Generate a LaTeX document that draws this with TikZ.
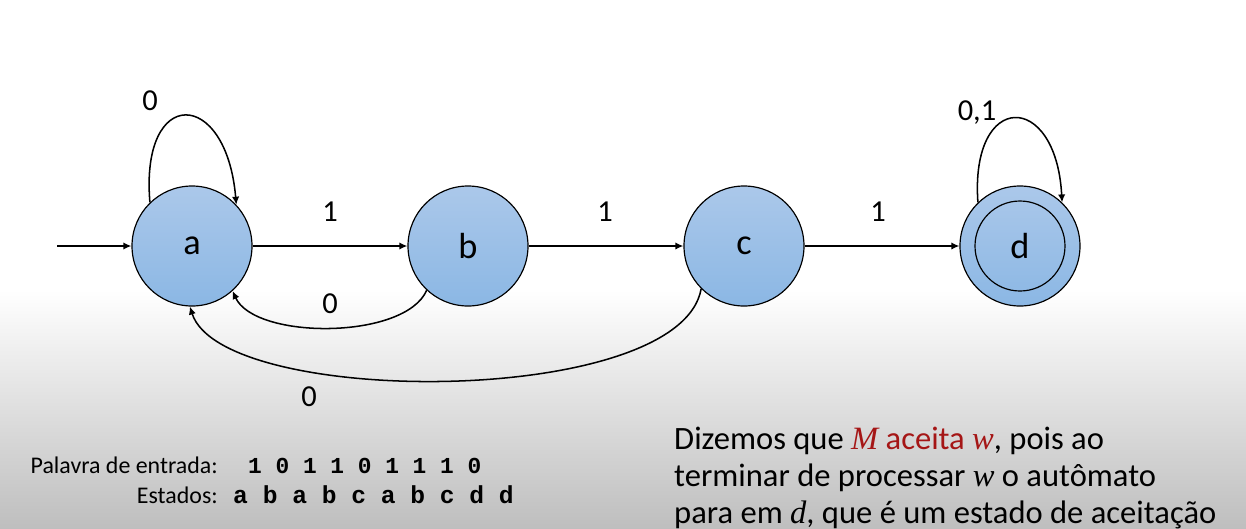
\documentclass[tikz,border=0pt]{standalone}
\usepackage{fontspec}
\setmainfont{Carlito}
\setmonofont{Liberation Mono}
\newfontfamily\varfont{Liberation Serif}
\newcommand{\var}[1]{{\varfont\itshape #1}}
\usetikzlibrary{arrows.meta}
\definecolor{statetop}{RGB}{171,200,234}
\definecolor{statebot}{RGB}{139,183,228}
\definecolor{bggray}{RGB}{190,190,190}
\definecolor{accred}{RGB}{165,22,22}
\tikzset{
  statenode/.style={circle, draw=black, line width=1pt, minimum size=3.6cm, inner sep=0pt,
    top color=statetop, bottom color=statebot, font=\fontsize{31}{34}\selectfont},
  trans/.style={-{Latex[length=2.4mm,width=2.2mm]}, line width=1.3pt},
  edgelbl/.style={inner sep=0pt, font=\fontsize{26}{30}\selectfont},
  infotext/.style={inner sep=0pt, anchor=base west, font=\fontsize{27.8}{31}\selectfont},
}
\begin{document}
\begin{tikzpicture}[x=0.03cm,y=-0.03cm]
\useasboundingbox (0,0) rectangle (1246,529);
\fill [white] (0,0) rectangle (1246,290);
\shade [top color=white, bottom color=bggray] (0,290) rectangle (1246,529);
\node [statenode] (a) at (192,246) {a};
\node [statenode] (b) at (468,246) {b};
\node [statenode] (c) at (744,246) {c};
\node [statenode] (d) at (1020,246) {d};
\node [circle, draw=black, line width=1pt, minimum size=2.7cm] (dinner) at (d) {};
\coordinate (start) at (57,246);
\draw [trans] (start) -- (a);
\draw [trans] (a) -- (b);
\node [edgelbl] (lab) at (330,212) {1};
\draw [trans] (b) -- (c);
\node [edgelbl] (lbc) at (605,212) {1};
\draw [trans] (c) -- (d);
\node [edgelbl] (lcd) at (878,212) {1};
\draw [trans] (a.134) .. controls +(-10,-117) and +(-10,-117) .. (a.43);
\node [edgelbl] (laa) at (150,101) {0};
\draw [trans] (d.134) .. controls +(-8,-112) and +(-6,-112) .. (d.46);
\node [edgelbl] (ldd) at (977,113) {0,1};
\draw [trans] (b.227) .. controls (405,340) and (255,340) .. (a.312);
\node [edgelbl] (lba) at (330,304) {0};
\draw [trans] (c.225) .. controls (680,408) and (222,408) .. (a.268);
\node [edgelbl] (lca) at (309,397) {0};
\node [inner sep=0pt, anchor=base east, font=\fontsize{20.4}{22}\selectfont] (wordlbl) at (218,473) {Palavra de entrada:};
\node [inner sep=0pt, anchor=base east, font=\fontsize{20.4}{22}\selectfont] (statelbl) at (218,503) {Estados:};
\node [inner sep=0pt, anchor=base west, font=\fontsize{19.5}{22}\selectfont\ttfamily\bfseries] (word) at (248,473) {1 0 1 1 0 1 1 1 0};
\node [inner sep=0pt, anchor=base west, font=\fontsize{21}{22}\selectfont\ttfamily\bfseries] (states) at (233,503) {a b a b c a b c d d};
\node [infotext] (line1) at (674,449) {Dizemos que \textcolor{accred}{\var{M} aceita \var{w}}, pois ao};
\node [infotext] (line2) at (674,486) {terminar de processar \var{w} o autômato};
\node [infotext] (line3) at (674,523) {para em \var{d}, que é um estado de aceitação};
\end{tikzpicture}
\end{document}
